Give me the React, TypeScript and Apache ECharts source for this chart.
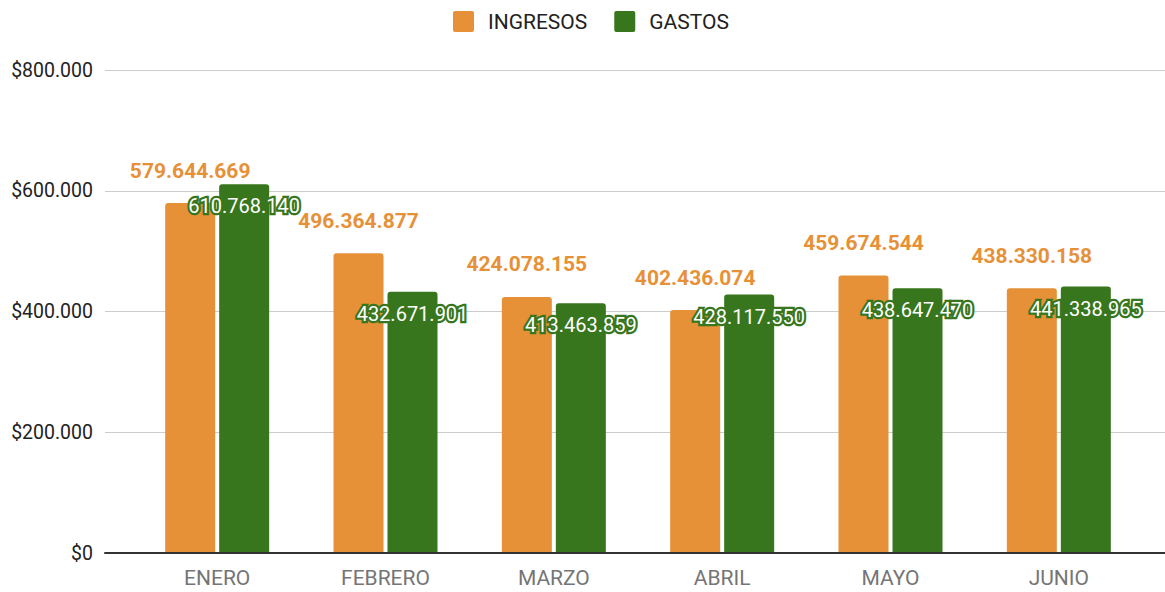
import React, { useEffect, useRef } from "react";
import * as echarts from "echarts";

const categories = ["ENERO", "FEBRERO", "MARZO", "ABRIL", "MAYO", "JUNIO"];
const ingresos = [579644669, 496364877, 424078155, 402436074, 459674544, 438330158];
const gastos = [610768140, 432671901, 413463859, 428117550, 438647470, 441338965];
const yTicks = [0, 200000000, 400000000, 600000000, 800000000];

const fmt = (n: number) => String(Math.round(n)).replace(/\B(?=(\d{3})+(?!\d))/g, ".");

export default function App() {
  const ref = useRef<HTMLDivElement>(null);
  useEffect(() => {
    if (!ref.current) return;
    const chart = echarts.init(ref.current, undefined, { renderer: "svg" });
    const font = "Roboto, 'Noto Sans', sans-serif";
    const yMax = yTicks[yTicks.length - 1];
    const interval = yTicks[1] - yTicks[0];
    chart.setOption({
      animation: false,
      textStyle: { fontFamily: font },
      legend: {
        top: 6,
        left: 448,
        itemWidth: 21,
        itemHeight: 21,
        itemGap: 27,
        icon: "path://M2,0H19A2,2,0,0,1,21,2V19A2,2,0,0,1,19,21H2A2,2,0,0,1,0,19V2A2,2,0,0,1,2,0Z",
        textStyle: { fontSize: 21, color: "#222", fontFamily: font, padding: [0, 0, 0, 9] },
        data: ["INGRESOS", "GASTOS"],
      },
      grid: [
        { left: 133, right: 22, top: 70, bottom: 39 },
        { left: 105, right: 0, top: 70, bottom: 39 },
      ],
      xAxis: [
        {
          type: "category",
          gridIndex: 0,
          data: categories,
          axisLine: { show: false },
          axisTick: { show: false },
          axisLabel: { color: "#757575", fontSize: 21, margin: 14, fontFamily: font },
        },
        {
          type: "category",
          gridIndex: 1,
          data: categories,
          z: 5,
          axisLine: { show: true, lineStyle: { color: "#333", width: 2 } },
          axisTick: { show: false },
          axisLabel: { show: false },
        },
      ],
      yAxis: [
        {
          type: "value",
          gridIndex: 0,
          min: 0,
          max: yMax,
          interval,
          show: false,
          splitLine: { show: false },
        },
        {
          type: "value",
          gridIndex: 1,
          min: 0,
          max: yMax,
          interval,
          axisLine: { show: false },
          axisTick: { show: false },
          splitLine: { lineStyle: { color: "#cccccc", width: 1 } },
          axisLabel: {
            color: "#222",
            fontSize: 19.5,
            margin: 12,
            fontFamily: font,
            formatter: (v: number) => "$" + fmt(v / 1000),
          },
        },
      ],
      series: [
        {
          name: "INGRESOS",
          type: "bar",
          xAxisIndex: 0,
          yAxisIndex: 0,
          data: ingresos,
          barWidth: 50,
          barGap: "8%",
          itemStyle: { color: "#E69138", borderRadius: [3, 3, 0, 0] },
          label: {
            show: true,
            position: "top",
            distance: 22,
            color: "#E69138",
            fontWeight: "bold",
            fontSize: 21,
            fontFamily: font,
            formatter: (p: any) => fmt(p.value),
          },
        },
        {
          name: "GASTOS",
          type: "bar",
          xAxisIndex: 0,
          yAxisIndex: 0,
          data: gastos,
          barWidth: 50,
          barGap: "8%",
          itemStyle: { color: "#38761D", borderRadius: [3, 3, 0, 0] },
          label: {
            show: true,
            position: "insideTop",
            distance: 12,
            color: "#ffffff",
            textBorderColor: "#38761D",
            textBorderWidth: 4.5,
            fontSize: 20,
            fontFamily: font,
            formatter: (p: any) => fmt(p.value),
          },
        },
      ],
    });
    return () => chart.dispose();
  }, []);
  return (
    <div
      ref={ref}
      style={{ position: "fixed", left: 0, top: 0, width: 1165, height: 592, background: "#fff" }}
    />
  );
}
